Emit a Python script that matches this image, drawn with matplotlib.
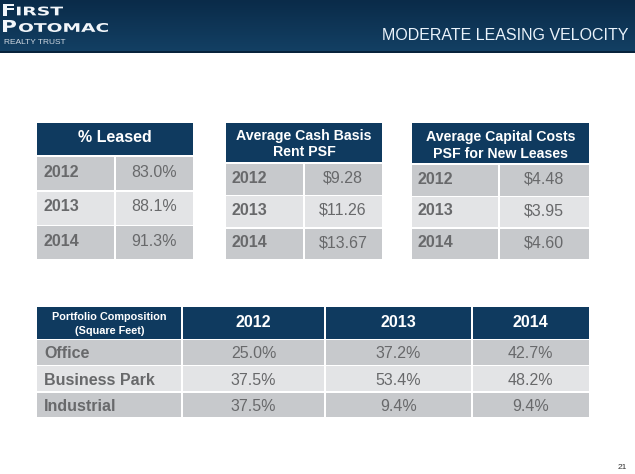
import matplotlib
matplotlib.use("Agg")
import matplotlib.pyplot as plt
import numpy as np
from matplotlib.patches import Rectangle, PathPatch
from matplotlib.textpath import TextPath
from matplotlib.font_manager import FontProperties
from matplotlib.transforms import Affine2D
from matplotlib.colors import to_rgb

# ---- data ----
years = ["2012", "2013", "2014"]
pct_leased = [83.0, 88.1, 91.3]
cash_rent_psf = [9.28, 11.26, 13.67]
capital_cost_psf = [4.48, 3.95, 4.60]

segments = ["Office", "Business Park", "Industrial"]
comp_2012 = [25.0, 37.5, 37.5]
comp_2013 = [37.2, 53.4, 9.4]
comp_2014 = [42.7, 48.2, 9.4]

title = "MODERATE LEASING VELOCITY"
page_no = "21"

# ---- style ----
NAVY = "#0f3a5f"
ROW_DARK = "#c7c9cc"
ROW_LIGHT = "#e3e4e6"
TEXT_GRAY = "#68696b"
FONT = "Liberation Sans"

plt.rcParams["font.family"] = [FONT, "DejaVu Sans"]

fig = plt.figure(figsize=(6.35, 4.74), dpi=100)
ax = fig.add_axes([0, 0, 1, 1])


def cell(x0, x1, y0, y1, color):
    ax.add_patch(Rectangle((x0, y0), x1 - x0, y1 - y0, facecolor=color,
                           edgecolor="none", zorder=2))


def fit_text(s, x0, x1, ytop, ybot, color="#f2f6fa"):
    # stretch a text path into a box, for the squared logo lettering
    tp = TextPath((0, 0), s, size=20,
                  prop=FontProperties(family="DejaVu Sans", weight="bold"))
    ext = tp.get_extents()
    sx = (x1 - x0) / ext.width
    sy = (ybot - ytop) / ext.height
    tr = (Affine2D().translate(-ext.x0, -ext.y0).scale(sx, -sy)
          .translate(x0, ybot) + ax.transData)
    ax.add_patch(PathPatch(tp, facecolor=color, edgecolor="none",
                           transform=tr, zorder=5))


# ---- banner ----
top = np.array(to_rgb("#0a2b49"))
bot = np.array(to_rgb("#134064"))
t = np.linspace(0, 1, 60)[:, None, None]
grad = top * (1 - t) + bot * t
grad = np.repeat(grad, 2, axis=1)
ax.imshow(grad, extent=(0, 635, 52, 0), aspect="auto", zorder=1)
ax.add_patch(Rectangle((0, 51), 635, 2, facecolor="#07233c", edgecolor="none", zorder=1))

fit_text("F", 3, 14, 3.5, 15.5)
fit_text("IRST", 17, 63, 6.5, 15.5)
fit_text("P", 3, 16, 20, 32)
fit_text("OTOMAC", 19, 108, 23, 32)
ax.text(4, 43.5, "REALTY TRUST", fontsize=6, color="#d0d9e2", ha="left",
        va="baseline", zorder=5)
ax.text(629, 40, title, fontsize=11.5, color="#eaf3fb", ha="right",
        va="baseline", zorder=5)

head_lines_size = {1: 11.5, 2: 10.2}


# ---- small tables ----
def small_table(xs, head_top, head_bot, body_bot, head_lines, values, fmt):
    x0, xm, x1 = xs
    cell(x0, x1, head_top, head_bot, NAVY)
    for text, base in head_lines:
        ax.text((x0 + x1) / 2, base, text, fontsize=head_lines_size[len(head_lines)],
                fontweight="bold", color="white", ha="center", va="baseline", zorder=3)
    edges = np.linspace(head_bot + 1.5, body_bot, len(years) + 1)
    for i, (yr, v) in enumerate(zip(years, values)):
        r0, r1 = edges[i] + 0.8, edges[i + 1] - 0.8
        color = ROW_DARK if i % 2 == 0 else ROW_LIGHT
        cell(x0, xm - 0.8, r0, r1, color)
        cell(xm + 0.8, x1, r0, r1, color)
        base = (r0 + r1) / 2 + 3.2
        ax.text(x0 + 6, base, yr, fontsize=11.5, fontweight="bold",
                color=TEXT_GRAY, ha="left", va="baseline", zorder=3)
        ax.text((xm + x1) / 2, base, fmt(v), fontsize=11.5,
                color=TEXT_GRAY, ha="center", va="baseline", zorder=3)


small_table((37, 115, 193), 123, 155, 260, [("% Leased", 141.7)],
            pct_leased, lambda v: f"{v:.1f}%")
small_table((226, 304, 382), 123, 162, 260,
            [("Average Cash Basis", 140), ("Rent PSF", 156.5)],
            cash_rent_psf, lambda v: f"${v:.2f}")
small_table((412, 499, 589), 123, 163, 260,
            [("Average Capital Costs", 140.5), ("PSF for New Leases", 158)],
            capital_cost_psf, lambda v: f"${v:.2f}")

# ---- portfolio composition table ----
cols = [37, 182, 325, 472, 589]
comp_cols = [comp_2012, comp_2013, comp_2014]
head_top, head_bot, body_bot = 307, 338.5, 418
for j in range(4):
    cell(cols[j] + (0.7 if j else 0), cols[j + 1] - (0.7 if j < 3 else 0),
         head_top, head_bot, NAVY)
cx = (cols[0] + cols[1]) / 2
ax.text(cx, 320.5, "Portfolio Composition", fontsize=7.8, fontweight="bold",
        color="white", ha="center", va="baseline", zorder=3)
ax.text(cx, 333.5, "(Square Feet)", fontsize=7.8, fontweight="bold",
        color="white", ha="center", va="baseline", zorder=3)
for j, yr in enumerate(years):
    ax.text((cols[j + 1] + cols[j + 2]) / 2, 327, yr, fontsize=11.5,
            fontweight="bold", color="white", ha="center", va="baseline", zorder=3)

edges = np.linspace(head_bot + 1, body_bot, len(segments) + 1)
for i, seg in enumerate(segments):
    r0, r1 = edges[i] + 0.8, edges[i + 1] - 0.8
    color = ROW_DARK if i % 2 == 0 else ROW_LIGHT
    for j in range(4):
        cell(cols[j] + (0.7 if j else 0), cols[j + 1] - (0.7 if j < 3 else 0),
             r0, r1, color)
    base = (r0 + r1) / 2 + 5.8
    ax.text(cols[0] + 7, base, seg, fontsize=11.5, fontweight="bold",
            color=TEXT_GRAY, ha="left", va="baseline", zorder=3)
    for j, vals in enumerate(comp_cols):
        ax.text((cols[j + 1] + cols[j + 2]) / 2, base, f"{vals[i]:.1f}%",
                fontsize=11.5, color=TEXT_GRAY, ha="center", va="baseline", zorder=3)

ax.text(622.5, 469, page_no, fontsize=6, color="#333333", ha="center",
        va="baseline", zorder=3)

ax.set_xlim(0, 635)
ax.set_ylim(474, 0)
ax.axis("off")
fig.savefig("out.png", dpi=100, facecolor="white")
